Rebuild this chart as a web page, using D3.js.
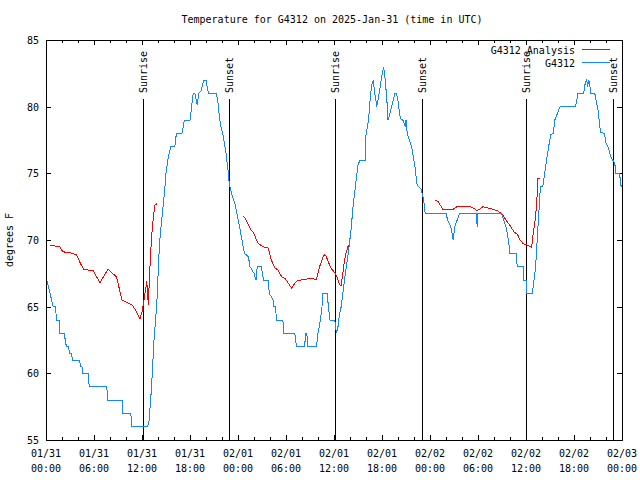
<!DOCTYPE html>
<html>
<head>
<meta charset="utf-8">
<script src="https://cdn.jsdelivr.net/npm/d3@7"></script>
<style>
html,body{margin:0;padding:0;background:#fff;}
text{font-family:"DejaVu Sans Mono","Liberation Mono",monospace;font-size:10px;fill:#000;}
</style>
</head>
<body>
<svg id="chart" width="640" height="480"></svg>
<script>
const titleText = "Temperature for G4312 on 2025-Jan-31 (time in UTC)";
const yLabel = "degrees F";
const startDate = Date.UTC(2025, 0, 31, 0, 0);
const endDate = Date.UTC(2025, 1, 3, 0, 0);
const yTicks = [55, 60, 65, 70, 75, 80, 85];
const seriesNames = ["G4312 Analysis", "G4312"];
const seriesColors = ["#ff0000", "#1088ff"];

// [hours since 01/31 00:00 UTC, degrees F]
const observed = [
 [0,67.2],[0.3,66.5],[0.5,66],[0.7,65.5],[0.9,65],[1.2,65],[1.3,64],[1.65,64],[1.75,63],[2.3,63],
 [2.4,62.5],[2.55,62],[2.85,62],[2.9,61.5],[3.2,61.5],[3.3,61],[4.2,61],[4.3,60.5],[4.5,60.5],[4.6,60],
 [5.3,60],[5.4,59],[7.6,59],[7.7,58],[9.5,58],[9.6,57],[10.6,57],[10.75,56],[12.7,56],[12.9,56.5],
 [13.05,57.8],[13.2,59],[13.35,60.8],[13.5,62.5],[13.7,64],[13.9,65.75],[14.05,68],[14.2,69.8],[14.5,71.75],[14.8,73.5],
 [15.0,75],[15.3,76.25],[15.6,77],[16.1,77],[16.3,78],[17.0,78],[17.3,79],[18.0,79],[18.2,80],[18.4,81],
 [18.6,81],[18.8,80.4],[18.9,80.1],[19.1,81],[19.4,81.2],[19.7,82],[20.0,82],[20.3,81],[21.3,81],[21.5,80.3],
 [21.7,79.1],[21.95,78.25],[22.1,78],[22.3,77.25],[22.5,76.5],[22.8,75],[22.9,74.25],[23.2,73.5],[23.6,72.75],[24.2,71],
 [24.5,70],[24.8,69],[25.3,68.75],[25.5,68],[26.0,67.5],[26.25,67],[26.4,68],[26.9,68],[27.2,67],[27.8,67],
 [27.9,66],[28.4,65.5],[28.5,65],[28.7,65],[28.8,64],[29.6,64],[29.75,63],[31.1,63],[31.3,62],[32.3,62],
 [32.5,63],[32.6,63],[32.75,62],[33.8,62],[34.0,63],[34.3,64],[34.5,65],[34.6,66],[35.15,66],[35.3,65],
 [35.5,64],[36.1,64],[36.3,63],[36.5,63.5],[36.7,64.5],[36.9,65],[37.1,66],[37.4,67.4],[37.8,69.1],[38.1,70.6],
 [38.4,72.6],[38.75,74.4],[39.0,75.6],[39.25,76],[39.9,76],[40.0,77.9],[40.3,78.9],[40.5,80.4],[40.7,81.6],[40.9,82],
 [41.1,81],[41.35,80],[41.7,81.2],[42.0,82.4],[42.2,83],[42.4,82],[42.6,80.6],[42.75,79],[43.0,79.5],[43.2,80],
 [43.6,81],[43.8,81],[44.0,80.4],[44.3,79.1],[44.6,79],[44.9,78.5],[45.0,79],[45.15,78],[45.7,77],[46.1,75.6],
 [46.4,74.1],[46.9,73.8],[47.2,73],[47.4,72],[50.0,72],[50.2,71.5],[50.6,71],[50.9,70],[51.1,71],[51.4,71.5],
 [51.7,72],[53.8,72],[53.9,71],[54.0,72],[56.95,72],[57.2,71.5],[57.5,71],[57.8,70],[58.0,69],[58.8,69],
 [58.9,68],[59.7,68],[59.75,67],[60.0,67],[60.1,66],[60.8,66],[61.0,67],[61.2,68],[61.4,70],[61.6,72],
 [61.8,74],[62.1,74],[62.4,75.25],[62.7,76.5],[62.9,77.25],[63.1,77.9],[63.4,78],[63.6,79],[64.1,79.75],[64.25,80],
 [66.2,80],[66.5,81],[67.2,81],[67.4,81.75],[67.6,82],[67.7,81.5],[67.85,82],[68.0,81.5],[68.1,81],[68.6,81],
 [69.0,79.75],[69.3,78.1],[69.8,78],[70.0,77.25],[70.3,76.9],[70.6,76.25],[70.8,76],[71.1,75.8],[71.2,75],[71.7,75],
 [71.85,74.1],[72.0,74]
];

const analysis1 = [
 [0.5,69.6],[1.7,69.5],[2.0,69.2],[2.3,69.1],[3.0,69.1],[3.2,69.0],[3.8,68.9],[4.3,68.25],[4.7,67.8],[5.9,67.7],
 [6.75,66.8],[7.75,67.8],[8.3,67.5],[8.8,67.25],[9.1,66.5],[9.5,65.5],[10.2,65.3],[10.8,65.1],[11.2,64.75],[11.75,64.1],
 [12.0,64.6],[12.25,65.5],[12.4,66.1],[12.6,66.9],[12.8,65.1],[12.9,66.8],[13.1,69.25],[13.3,71],[13.6,72.6],[13.9,72.75]
];
const analysis2 = [
 [24.7,71.8],[25.0,71.5],[25.6,70.75],[25.9,70.6],[26.5,69.75],[27.1,69.5],[27.8,69.4],[28.1,68.6],[28.6,67.9],[29.0,67.75],
 [29.5,67.2],[29.9,67.1],[30.7,66.4],[31.3,66.9],[32.1,67.05],[33.2,67.1],[33.8,67.05],[34.2,68],[34.75,68.9],[35.0,68.8],
 [35.6,67.9],[35.9,67.7],[36.25,67.4],[36.75,66.6],[36.9,66.6],[37.3,68.4],[37.5,69],[37.8,69.6]
];
const analysis3 = [
 [48.6,73],[49.0,72.9],[49.6,72.3],[50.9,72.3],[51.5,72.55],[52.9,72.55],[53.4,72.4],[53.9,72.2],[54.4,72.4],[54.6,72.5],
 [55.3,72.4],[55.9,72.3],[56.4,72.2],[56.8,72.05],[57.2,71.8],[57.6,71.4],[58.0,71.1],[58.5,70.6],[58.95,70.4],[59.25,70.0],
 [59.7,69.7],[60.2,69.6],[60.7,69.45],[60.8,69.9],[60.9,70.5],[61.1,71.25],[61.3,72.5],[61.4,73.4],[61.5,74.6],[61.8,74.6]
];

const sunEvents = [
 ["Sunrise", 12.15], ["Sunset", 22.9], ["Sunrise", 36.1],
 ["Sunset", 46.95], ["Sunrise", 60.05], ["Sunset", 70.9]
];

const svg = d3.select("#chart");
const m = {left: 46, right: 18, top: 40, bottom: 40};
const W = 640, H = 480;
const toDate = h => new Date(startDate + h * 3600000);

const x = d3.scaleUtc().domain([new Date(startDate), new Date(endDate)]).range([m.left, W - m.right]);
const y = d3.scaleLinear().domain([55, 85]).range([H - m.bottom, m.top]);

const g = svg.append("g");

// ticks
const majorT = d3.utcHour.every(6).range(new Date(startDate), new Date(endDate + 1));
const minorT = d3.utcHour.every(2).range(new Date(startDate), new Date(endDate + 1));
const tickG = g.append("g").attr("stroke", "#000").attr("shape-rendering", "crispEdges");
minorT.forEach(t => {
  const len = (t.getUTCHours() % 6 === 0) ? 5 : 3;
  const px = Math.round(x(t)) + 0.5;
  tickG.append("line").attr("x1", px).attr("x2", px).attr("y1", y(55)).attr("y2", y(55) - len);
  tickG.append("line").attr("x1", px).attr("x2", px).attr("y1", y(85)).attr("y2", y(85) + len);
});
yTicks.forEach(v => {
  const py = Math.round(y(v)) + 0.5;
  tickG.append("line").attr("x1", x.range()[0]).attr("x2", x.range()[0] + 5).attr("y1", py).attr("y2", py);
  tickG.append("line").attr("x1", x.range()[1]).attr("x2", x.range()[1] - 5).attr("y1", py).attr("y2", py);
});

// y tick labels
g.append("g").selectAll("text").data(yTicks).join("text")
  .attr("x", 39).attr("y", d => y(d) + 4).attr("text-anchor", "end").text(d => d);

// x tick labels
const fmtD = d3.utcFormat("%m/%d"), fmtH = d3.utcFormat("%H:%M");
const xl = g.append("g").selectAll("g").data(majorT).join("g")
  .attr("transform", d => `translate(${x(d)},0)`);
xl.append("text").attr("y", 457).attr("text-anchor", "middle").text(d => fmtD(d));
xl.append("text").attr("y", 472).attr("text-anchor", "middle").text(d => fmtH(d));

// sunrise / sunset
const sg = g.append("g").selectAll("g").data(sunEvents).join("g");
sg.append("line")
  .attr("x1", d => Math.round(x(toDate(d[1]))) + 0.5).attr("x2", d => Math.round(x(toDate(d[1]))) + 0.5)
  .attr("y1", 99).attr("y2", y(55)).attr("stroke", "#000").attr("shape-rendering", "crispEdges");
sg.append("text")
  .attr("transform", d => `translate(${x(toDate(d[1])) + 4},93) rotate(-90)`)
  .attr("text-anchor", "start").text(d => d[0]);

// series
const line = d3.line().x(d => x(toDate(d[0]))).y(d => y(d[1]));
[analysis1, analysis2, analysis3].forEach(seg => {
  g.append("path").datum(seg).attr("d", line).attr("fill", "none")
    .attr("stroke", seriesColors[0]).attr("stroke-width", 1).attr("shape-rendering", "crispEdges");
});
g.append("path").datum(observed).attr("d", line).attr("fill", "none")
  .attr("stroke", seriesColors[1]).attr("stroke-width", 1).attr("shape-rendering", "crispEdges");

// frame
g.append("rect").attr("x", m.left + 0.5).attr("y", m.top + 0.5)
  .attr("width", W - m.left - m.right).attr("height", H - m.top - m.bottom)
  .attr("fill", "none").attr("stroke", "#000").attr("shape-rendering", "crispEdges");

// legend
const lg = g.append("g").selectAll("g").data(seriesNames).join("g")
  .attr("transform", (d, i) => `translate(0,${49.5 + i * 13})`);
lg.append("text").attr("x", 575).attr("y", 4).attr("text-anchor", "end").text(d => d);
lg.append("line").attr("x1", 582).attr("x2", 610).attr("y1", 0).attr("y2", 0)
  .attr("stroke", (d, i) => seriesColors[i]).attr("stroke-width", 1).attr("shape-rendering", "crispEdges");

// title & y label
svg.append("text").attr("x", 332).attr("y", 23).attr("text-anchor", "middle").text(titleText);
svg.append("text").attr("transform", "translate(13,240) rotate(-90)").attr("text-anchor", "middle").text(yLabel);
</script>
</body>
</html>
